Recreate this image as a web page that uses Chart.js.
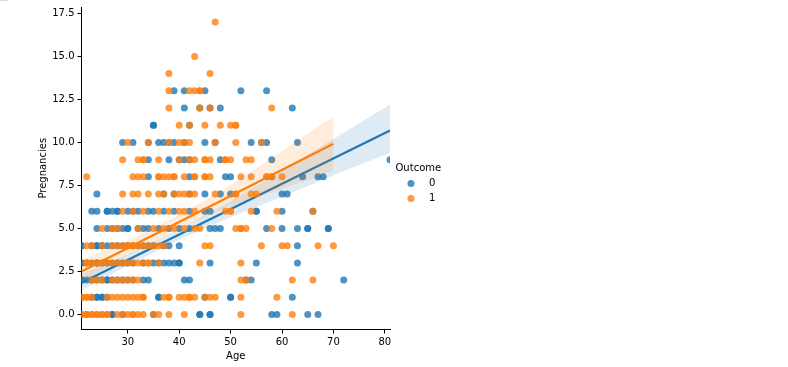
<!DOCTYPE html>
<html><head><meta charset="utf-8">
<script src="https://cdn.jsdelivr.net/npm/chart.js@4"></script>
<style>html,body{margin:0;padding:0;background:#fff}canvas{display:block}
#mark{position:absolute;left:0;top:0;width:8px;height:1px;background:#ddd}</style>
</head><body><div id="mark"></div><canvas id="c" width="788" height="367"></canvas>
<script>
// ages per pregnancy count (index = pregnancies)
const ages0 = [
 [27,27,29,35,44,44,46,46,58,59,65,67],
 [21,23,24,24,25,25,26,36,36,45,50,50,62],
 [21,21,21,22,23,24,25,26,26,27,28,29,30,31,33,34,41,42,53,54,72],
 [21,21,22,23,24,24,25,26,27,28,29,30,31,33,35,36,37,38,39,40,40,46,55,63],
 [21,21,23,24,24,25,25,26,27,28,29,30,31,32,33,34,35,37,38,40,63],
 [24,26,27,28,29,30,30,32,33,34,36,38,40,42,46,47,48,57,60,63,65,65,69,69],
 [23,24,26,26,27,28,28,30,31,32,34,35,37,39,42,45,46,55,55,60,66],
 [24,37,39,42,45,48,50,60,61],
 [34,42,49,50,58,64,67,68],
 [34,38,40,41,42,48,58,81],
 [29,31,34,36,37,38,39,41,45,47,54,56,57,63],
 [35,35,42],
 [41,44,46,48,62],
 [39,41,45,52,57],
 [], [], [], []
];
const ages1 = [
 [21,21,22,22,22,23,23,24,24,25,25,26,26,28,29,30,31,31,32,33,35,36,38,41,52,62],
 [21,21,22,22,23,26,27,28,29,30,31,32,33,33,37,38,38,40,41,42,42,43,45,46,47,52,59],
 [23,24,25,27,28,29,30,31,32,52,53,62,66],
 [22,22,23,24,25,26,27,28,29,30,31,32,33,34,34,36,44,52],
 [22,23,25,27,28,29,30,30,31,31,32,33,34,35,36,37,45,46,56,60,61,67,70],
 [25,27,28,32,35,37,39,41,43,44,51,52,52,53,58],
 [29,31,33,36,38,40,41,43,49,50,50,54,59,66],
 [29,31,32,34,36,37,39,40,41,42,43,47,51,51,54,55],
 [22,31,32,33,36,36,37,38,39,39,41,43,43,45,45,46,52,54,57,57,58,60],
 [29,32,33,33,36,40,42,43,45,45,46,49,49,50,53,54],
 [30,34,38,40,41,42,47,51,56],
 [40,42,45,48,50,51,51],
 [38,44,46,58],
 [38,42,43,44,44],
 [38,46], [43], [], [47]
];
const lineAge0 = [21,81], lineY0 = [1.85,10.7];
const lineAge1 = [21,70], lineY1 = [2.5,9.92];
const bandAge0 = [21,30,40,50,60,70,81];
const bandHi0 = [2.35,3.5,4.95,6.6,8.35,10.2,12.2];
const bandLo0 = [1.4,2.85,4.35,5.65,6.85,8.1,9.4];
const bandAge1 = [21,30,40,50,60,70];
const bandHi1 = [3.15,4.3,5.8,7.5,9.5,11.5];
const bandLo1 = [1.9,3.45,5.0,6.3,7.3,8.35];
const xTicks = [30,40,50,60,70,80];
const yTicks = [0,2.5,5,7.5,10,12.5,15,17.5];
const legendTitle = 'Outcome';
const blue = '#1f77b4', orange = '#ff7f0e';
const blueA = 'rgba(31,119,180,0.8)', orangeA = 'rgba(255,127,14,0.8)';
const pts = rows => rows.flatMap((r,p)=>r.map(a=>({x:a,y:p})));
const zip = (a,b) => a.map((v,i)=>({x:v,y:b[i]}));
const lineDs = (xs,ys,c,o)=>({type:'line',label:'_',data:zip(xs,ys),borderColor:c,borderWidth:2.25,pointRadius:0,fill:false,order:o,clip:0,tension:0});
const bandDs = (xs,ys,fillTo,bg,o)=>({type:'line',label:'_',data:zip(xs,ys),borderWidth:0,borderColor:'transparent',pointRadius:0,fill:fillTo,backgroundColor:bg,order:o,clip:0,tension:0});
const font = {family:'"DejaVu Sans"',size:10};
const sideLegend = {id:'sideLegend',afterDraw(ch){
 const c=ch.ctx; c.save();
 c.font='10px "DejaVu Sans"'; c.fillStyle='#000'; c.textBaseline='middle'; c.textAlign='left';
 c.fillText(legendTitle,395.5,168.5);
 [0,1].forEach(i=>{
  const d=ch.data.datasets[i], y=183.5+i*15;
  c.fillStyle=d.backgroundColor; c.beginPath(); c.arc(411,y,3.5,0,Math.PI*2); c.fill();
  c.fillStyle='#000'; c.fillText(d.label,429,y);
 });
 c.restore();
}};
new Chart(document.getElementById('c'),{
 type:'scatter',
 data:{datasets:[
  {label:'0',data:pts(ages0),backgroundColor:blueA,borderWidth:0,pointRadius:3.5,pointHoverRadius:3.5,order:6,clip:0,pointStyle:'circle'},
  {label:'1',data:pts(ages1),backgroundColor:orangeA,borderWidth:0,pointRadius:3.5,pointHoverRadius:3.5,order:3,clip:0,pointStyle:'circle'},
  lineDs(lineAge0,lineY0,blue,5),
  bandDs(bandAge0,bandHi0,'+1','rgba(31,119,180,0.15)',4),
  bandDs(bandAge0,bandLo0,false,'transparent',4),
  lineDs(lineAge1,lineY1,orange,2),
  bandDs(bandAge1,bandHi1,'+1','rgba(255,127,14,0.15)',1),
  bandDs(bandAge1,bandLo1,false,'transparent',1)
 ]},
 options:{
  responsive:false,animation:false,
  layout:{padding:{left:37,top:7,right:398,bottom:5}},
  plugins:{tooltip:{enabled:false},legend:{display:false}},
  scales:{
   x:{type:'linear',min:21,max:81,
    afterBuildTicks:s=>{s.ticks=xTicks.map(v=>({value:v}));},
    afterFit:s=>{s.height=32.5;s.paddingLeft=0;s.paddingRight=0;},
    grid:{drawOnChartArea:false,tickLength:4,tickColor:'#000',tickWidth:1},
    border:{color:'#000',width:1},
    ticks:{color:'#000',font,maxRotation:0,padding:3,autoSkip:false,callback:v=>String(v)},
    title:{display:true,text:'Age',color:'#000',font,padding:{top:3,bottom:0}}},
   y:{type:'linear',min:-0.87,max:17.87,
    afterBuildTicks:s=>{s.ticks=yTicks.map(v=>({value:v}));},
    afterFit:s=>{s.width=44.5;s.paddingTop=0;s.paddingBottom=0;},
    grid:{drawOnChartArea:false,tickLength:4,tickColor:'#000',tickWidth:1},
    border:{color:'#000',width:1},
    ticks:{color:'#000',font,padding:3,autoSkip:false,callback:v=>v.toFixed(1)},
    title:{display:true,text:'Pregnancies',color:'#000',font,padding:{top:0,bottom:0}}}
  }
 },
 plugins:[sideLegend]
});
</script></body></html>
